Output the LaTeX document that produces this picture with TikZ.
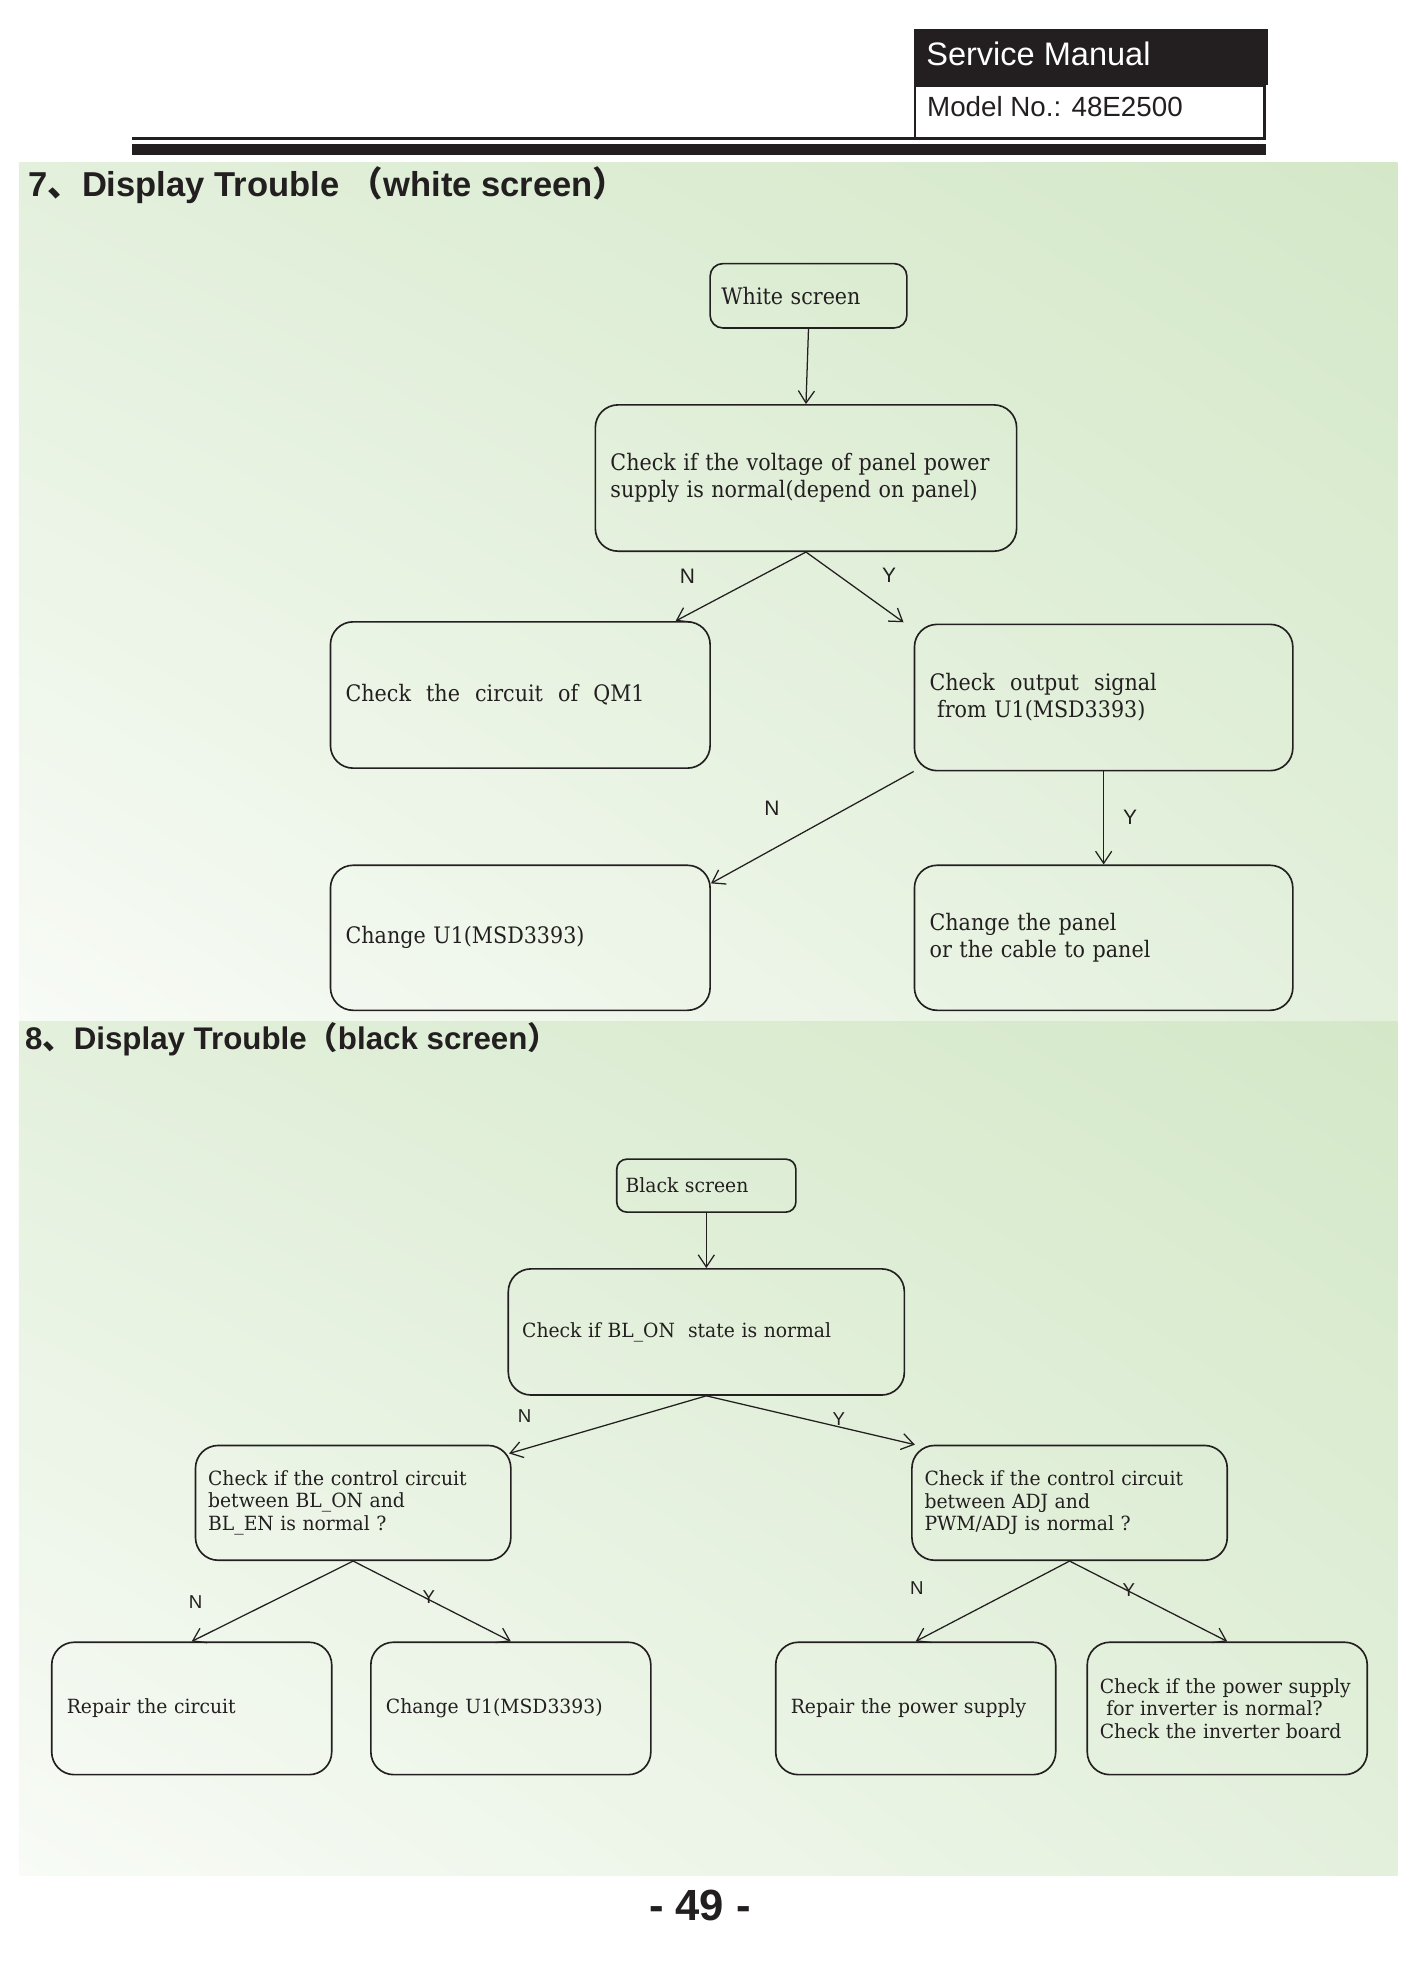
\documentclass[tikz,border=0pt]{standalone}
\usepackage{fontspec}
\setmainfont{DejaVu Serif}
\setsansfont{Liberation Sans}
\newfontfamily\cjk{Noto Sans CJK SC}
\newfontfamily\sevenfont{DejaVu Serif}[FakeStretch=0.91]
\newfontfamily\eightfont{DejaVu Serif}[FakeStretch=0.96]
\usetikzlibrary{arrows.meta,calc,shadings}
\definecolor{ink}{RGB}{35,31,32}
\definecolor{bggreen}{RGB}{212,232,200}
\definecolor{bgmid}{RGB}{227,240,220}
\definecolor{bgpale}{RGB}{248,251,246}
\tikzset{
  bigbox/.style={draw=ink, line width=0.65pt, rounded corners=9pt, inner xsep=6pt, inner ysep=0pt,
    align=left, text=ink, font=\sevenfont\fontsize{9}{10.8}\selectfont},
  smallbox/.style={bigbox, inner xsep=5.5pt, font=\eightfont\fontsize{7.75}{9}\selectfont},
  yn/.style={text=ink, inner sep=0pt, font=\sffamily\fontsize{8.3}{10}\selectfont},
  yns/.style={yn, font=\sffamily\fontsize{7.4}{9}\selectfont},
  flow/.style={draw=ink, line width=0.5pt, -{Straight Barb[length=4.8pt,width=6.4pt]}},
  heading/.style={anchor=base west, text=ink, inner sep=0pt, font=\sffamily\bfseries\fontsize{13.7}{16}\selectfont}
}
\begin{document}
\begin{tikzpicture}[x=0.5pt, y=-0.5pt]
  \useasboundingbox (0,0) rectangle (1110,1570.6);
  % header
  \fill[ink] (725,23) rectangle (1005,67.7);
  \draw[ink, line width=1pt] (725.5,67.7) rectangle (1002.5,109.7);
  \draw[ink, line width=1pt] (105,110) -- (1003,110);
  \fill[ink] (105,114.2) rectangle (1003.5,122.9);
  \node[anchor=base west, inner sep=0pt, text=white, font=\sffamily\fontsize{12.9}{14}\selectfont] (service) at (734,52.1) {Service Manual};
  \node[anchor=base west, inner sep=0pt, text=ink, font=\sffamily\fontsize{11}{13}\selectfont] (model) at (734.7,92.5) {Model No.: 48E2500};
  % backgrounds
  \shade[upper left=bgmid, upper right=bggreen, lower left=bgpale, lower right=bgmid] (15,129) rectangle (1108,810);
  \shade[upper left=bgmid, upper right=bggreen, lower left=bgpale, lower right=bgmid] (15,810) rectangle (1108,1486.6);

  % 7. white screen
  \node[heading] (title7) at (22,155.5) {7{\cjk 、}Display Trouble {\cjk （}white screen{\cjk ）}};
  \node[bigbox, inner xsep=4.5pt, text width=69pt, minimum height=25.5pt, rounded corners=5pt] (white) at (641,234.5) {White screen};
  \node[bigbox, text width=155pt, minimum height=58pt] (volt) at (639,379) {Check if the voltage of panel power\\supply is normal(depend on panel)};
  \node[bigbox, text width=138.5pt, minimum height=58pt] (qm1) at (412.5,551) {Check\ \ the\ \ circuit\ \ of\ \ QM1};
  \node[bigbox, text width=138pt, minimum height=58pt] (u1sig) at (875,553) {Check\ \ output\ \ signal\\\ from U1(MSD3393)};
  \node[bigbox, text width=138.5pt, minimum height=57.5pt] (chgu1) at (412.5,743.5) {Change U1(MSD3393)};
  \node[bigbox, text width=138pt, minimum height=57.5pt] (panel) at (875,743.5) {Change the panel\\or the cable to panel};

  \draw[flow] (white.south) -- (volt.north);
  \draw[flow] (volt.south) -- ($(qm1.north east)+(-28,0)$);
  \draw[flow] (volt.south) -- ($(u1sig.north west)+(-8,-1)$);
  \draw[flow] (u1sig.south west) -- ($(chgu1.north east)+(0,15)$);
  \draw[flow] (u1sig.south) -- (panel.north);
  \node[yn] (n1) at (545,457) {N};
  \node[yn] (y1) at (705,456) {Y};
  \node[yn] (n2) at (612,641) {N};
  \node[yn] (y2) at (896,648) {Y};

  % 8. black screen
  \node[heading, font=\sffamily\bfseries\fontsize{12.4}{15}\selectfont] (title8) at (19.5,832) {8{\cjk 、}Display Trouble{\cjk （}black screen{\cjk ）}};
  \node[smallbox, inner xsep=3.5pt, text width=64pt, minimum height=21pt, rounded corners=4pt] (black) at (560,940) {Black screen};
  \node[smallbox, text width=146pt, minimum height=50pt] (blon) at (560,1056) {Check if BL\_ON\ \ state is normal};
  \node[smallbox, inner xsep=5pt, text width=115pt, minimum height=45.5pt] (ctl1) at (280,1191.5) {Check if the control circuit\\between BL\_ON and\\BL\_EN is normal ?};
  \node[smallbox, inner xsep=5pt, text width=115pt, minimum height=45.5pt] (ctl2) at (848,1191.5) {Check if the control circuit\\between ADJ and\\PWM/ADJ is normal ?};
  \node[smallbox, inner xsep=6pt, text width=99pt, minimum height=52.5pt] (rep1) at (152,1354.5) {Repair the circuit};
  \node[smallbox, inner xsep=6pt, text width=99pt, minimum height=52.5pt] (chg2) at (405,1354.5) {Change U1(MSD3393)};
  \node[smallbox, inner xsep=6pt, text width=99pt, minimum height=52.5pt] (rep2) at (726,1354.5) {Repair the power supply};
  \node[smallbox, inner xsep=5pt, text width=101pt, minimum height=52.5pt] (inv) at (973,1354.5) {Check if the power supply\\\ for inverter is normal?\\Check the inverter board};

  \draw[flow] (black.south) -- (blon.north);
  \draw[flow] (blon.south) -- ($(ctl1.north east)+(-2,7)$);
  \draw[flow] (blon.south) -- ($(ctl2.north west)+(3,0)$);
  \draw[flow] (ctl1.south) -- (rep1.north);
  \draw[flow] (ctl1.south) -- (chg2.north);
  \draw[flow] (ctl2.south) -- (rep2.north);
  \draw[flow] (ctl2.south) -- (inv.north);
  \node[yns] (n3) at (416,1123) {N};
  \node[yns] (y3) at (665,1125) {Y};
  \node[yns] (n4) at (155,1270) {N};
  \node[yns] (y4) at (340,1266) {Y};
  \node[yns] (n5) at (727,1259) {N};
  \node[yns] (y5) at (895,1261) {Y};

  % page number
  \node[anchor=base, inner sep=0pt, text=ink, font=\sffamily\bfseries\fontsize{17.3}{20}\selectfont] (page) at (555,1522.8) {- 49 -};
\end{tikzpicture}
\end{document}
